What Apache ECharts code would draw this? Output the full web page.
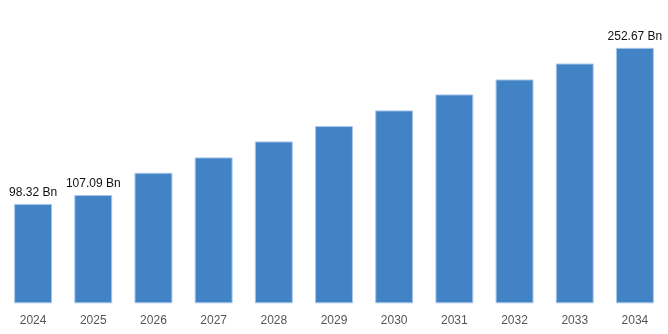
<!DOCTYPE html>
<html>
<head>
<meta charset="utf-8">
<script src="https://cdn.jsdelivr.net/npm/echarts@6/dist/echarts.min.js"></script>
<style>
  html, body { margin: 0; padding: 0; background: #ffffff; }
  #chart { width: 668px; height: 334px; }
</style>
</head>
<body>
<div id="chart"></div>
<script>
// Market size by year (USD billion)
const years = ['2024', '2025', '2026', '2027', '2028', '2029', '2030', '2031', '2032', '2033', '2034'];
const marketSize = [98.32, 107.09, 129.1, 144.3, 160.1, 175.3, 190.8, 206.6, 221.4, 237.2, 252.67];
// Only these years carry a value label
const labelledYears = ['2024', '2025', '2034'];

const chart = echarts.init(document.getElementById('chart'), null, { renderer: 'canvas' });

chart.setOption({
  animation: false,
  backgroundColor: '#ffffff',
  grid: { left: 3, right: 3, top: 0, bottom: 30.7, containLabel: false },
  xAxis: {
    type: 'category',
    data: years,
    axisLine: { show: false },
    axisTick: { show: false },
    axisLabel: {
      color: '#555555',
      fontSize: 12,
      fontFamily: '"Liberation Sans Narrow", "Arial Narrow", "Liberation Sans", Arial, sans-serif',
      margin: 11
    }
  },
  yAxis: {
    type: 'value',
    min: 0,
    max: 300,
    show: false,
    splitLine: { show: false }
  },
  series: [{
    type: 'bar',
    barWidth: '63%',
    data: marketSize.map((v, i) => ({
      value: v,
      label: { show: labelledYears.includes(years[i]) }
    })),
    itemStyle: {
      color: '#4283c6',
      borderColor: '#a8c6e8',
      borderWidth: 1
    },
    label: {
      position: 'top',
      distance: 5,
      color: '#111111',
      fontSize: 12,
      fontFamily: '"Liberation Sans", Arial, sans-serif',
      formatter: p => p.value.toFixed(2) + ' Bn'
    }
  }]
});
</script>
</body>
</html>
